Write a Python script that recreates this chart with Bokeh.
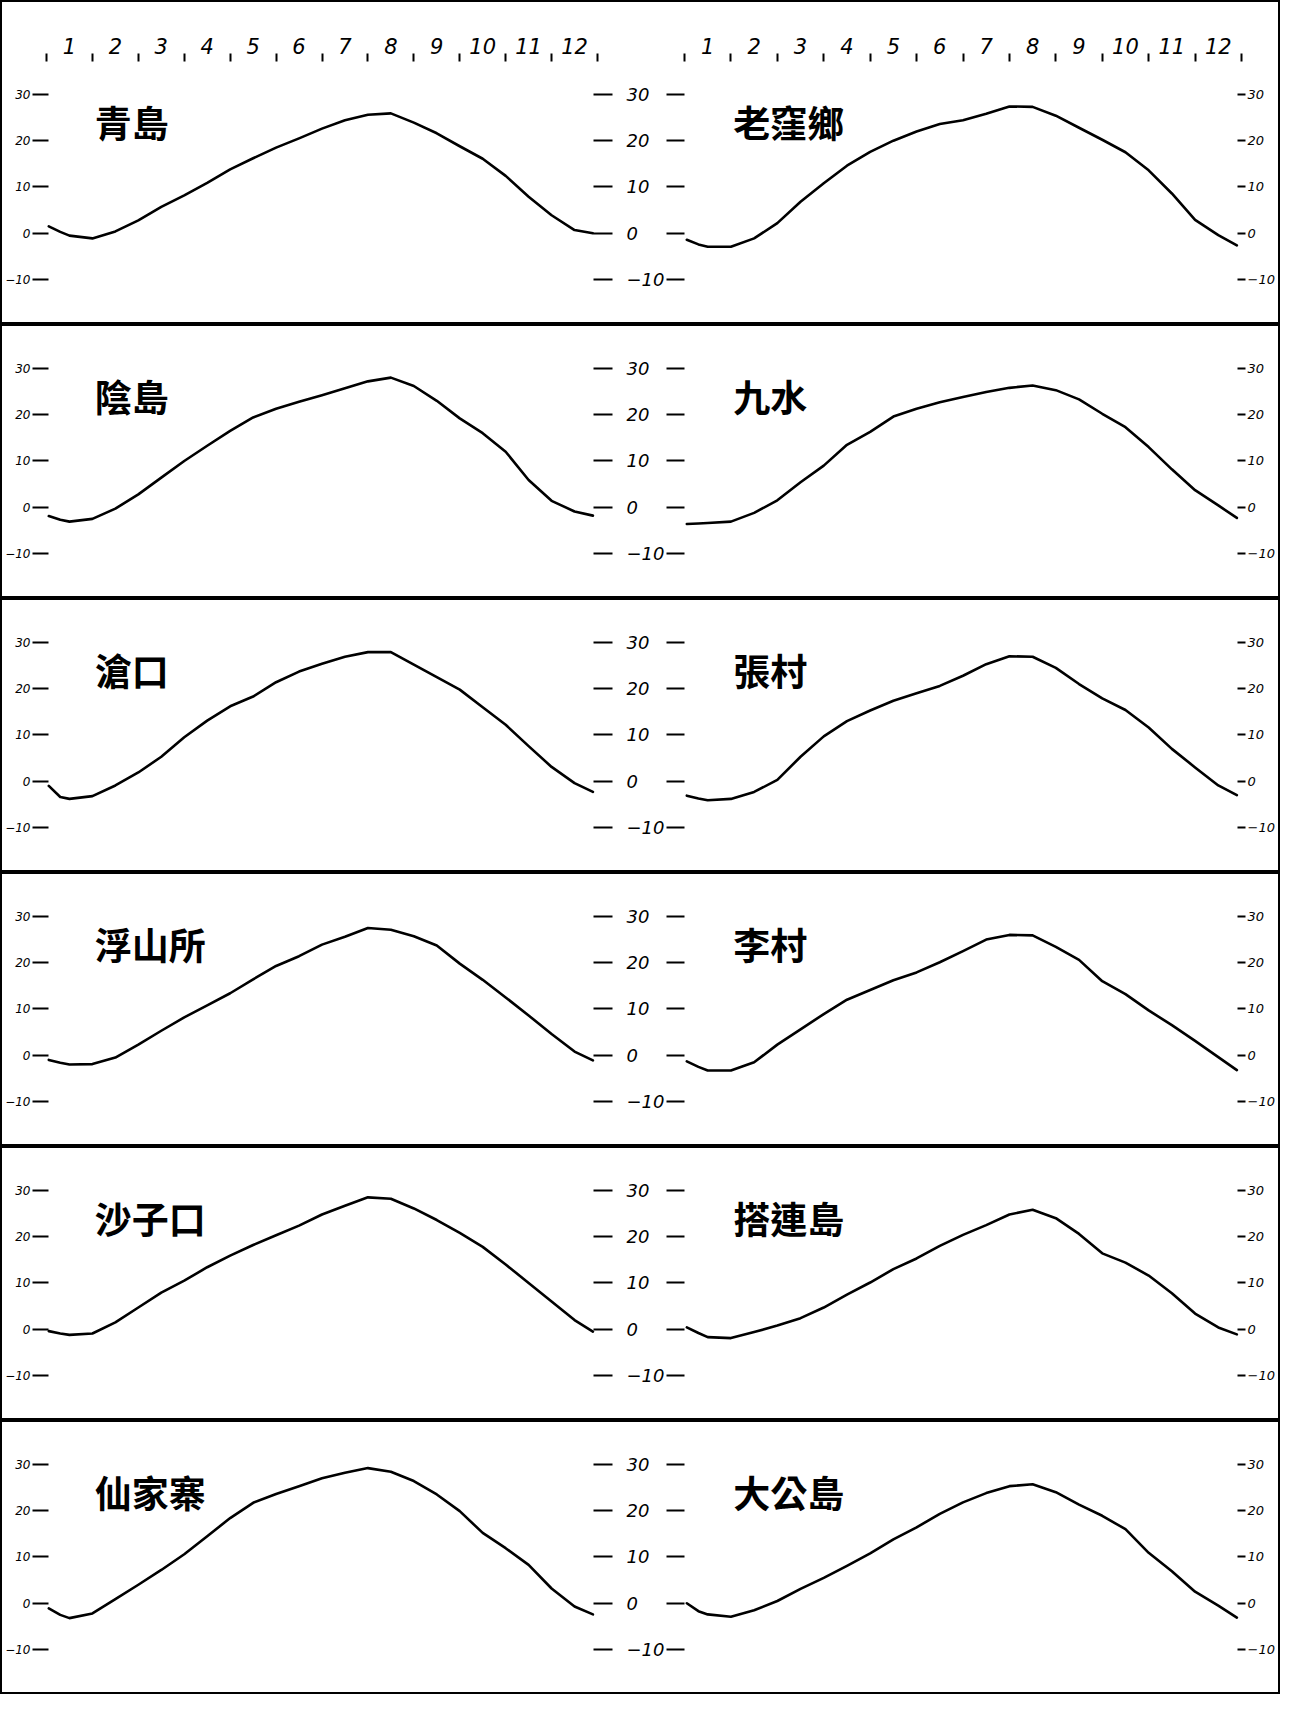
from bokeh.plotting import figure
from bokeh.models import Range1d, LinearAxis, FixedTicker
from bokeh.layouts import column
from bokeh.embed import file_html
from bokeh.resources import INLINE
from bokeh.core.properties import value

# ---------------- data ----------------
MONTH_X = [0.55, 0.8, 1.0, 1.5, 2.0, 2.5, 3.0, 3.5, 4.0, 4.5, 5.0, 5.5, 6.0,
           6.5, 7.0, 7.5, 8.0, 8.5, 9.0, 9.5, 10.0, 10.5, 11.0, 11.5, 12.0, 12.4]
MONTH_TICKS = [1, 2, 3, 4, 5, 6, 7, 8, 9, 10, 11, 12]
MONTH_EDGES = [0.5, 1.5, 2.5, 3.5, 4.5, 5.5, 6.5, 7.5, 8.5, 9.5, 10.5, 11.5, 12.5]
TEMP_TICKS = [-10, 0, 10, 20, 30]

LEFT_STATIONS = ["青島", "陰島", "滄口", "浮山所", "沙子口", "仙家寨"]
RIGHT_STATIONS = ["老窪鄉", "九水", "張村", "李村", "搭連島", "大公島"]

QINGDAO = [1.5, 0.3, -0.5, -1.1, 0.4, 2.8, 5.7, 8.2, 10.9, 13.8, 16.2, 18.5, 20.5,
           22.6, 24.4, 25.6, 25.9, 23.9, 21.6, 18.8, 16.1, 12.4, 7.9, 3.9, 0.7, 0.0]
LAOWAXIANG = [-1.4, -2.4, -2.9, -2.9, -1.1, 2.2, 6.8, 10.8, 14.6, 17.6, 20.0, 22.0, 23.6,
              24.4, 25.8, 27.4, 27.3, 25.4, 22.8, 20.2, 17.5, 13.6, 8.6, 2.9, -0.4, -2.6]
YINDAO = [-1.9, -2.7, -3.1, -2.5, -0.3, 2.8, 6.4, 10.0, 13.3, 16.5, 19.4, 21.3, 22.8,
          24.2, 25.7, 27.2, 28.0, 26.2, 23.0, 19.2, 16.0, 12.0, 5.9, 1.4, -0.9, -1.8]
JIUSHUI = [-3.6, -3.5, -3.4, -3.1, -1.2, 1.5, 5.4, 9.0, 13.5, 16.3, 19.6, 21.3, 22.7,
           23.8, 24.9, 25.8, 26.3, 25.3, 23.3, 20.2, 17.3, 13.0, 8.2, 3.7, 0.4, -2.3]
CANGKOU = [-1.0, -3.4, -3.8, -3.2, -0.9, 1.9, 5.3, 9.5, 13.1, 16.2, 18.3, 21.4, 23.7,
           25.4, 26.9, 27.9, 27.9, 25.2, 22.5, 19.8, 16.0, 12.2, 7.6, 3.1, -0.4, -2.3]
ZHANGCUN = [-3.1, -3.7, -4.1, -3.8, -2.3, 0.3, 5.3, 9.7, 13.0, 15.3, 17.4, 19.0, 20.6,
            22.8, 25.3, 27.0, 26.9, 24.5, 21.0, 17.9, 15.4, 11.6, 7.0, 3.0, -0.9, -3.0]
FUSHANSUO = [-1.0, -1.6, -2.0, -1.9, -0.5, 2.3, 5.3, 8.2, 10.8, 13.4, 16.4, 19.3, 21.4,
             23.9, 25.6, 27.5, 27.1, 25.7, 23.7, 19.8, 16.3, 12.5, 8.6, 4.6, 0.8, -1.1]
LICUN = [-1.3, -2.5, -3.3, -3.3, -1.5, 2.3, 5.6, 8.9, 12.0, 14.1, 16.2, 17.9, 20.1,
         22.5, 25.0, 26.0, 25.9, 23.4, 20.6, 16.0, 13.2, 9.7, 6.5, 3.1, -0.4, -3.2]
SHAZIKOU = [-0.4, -0.9, -1.2, -0.9, 1.5, 4.7, 7.9, 10.5, 13.4, 15.9, 18.2, 20.3, 22.4,
            24.8, 26.7, 28.5, 28.2, 26.1, 23.6, 20.8, 17.8, 14.0, 10.0, 6.0, 2.0, -0.5]
TALIANDAO = [0.4, -0.8, -1.7, -1.9, -0.6, 0.8, 2.4, 4.7, 7.5, 10.1, 13.0, 15.3, 18.0,
             20.4, 22.5, 24.8, 25.8, 24.0, 20.6, 16.4, 14.4, 11.6, 7.8, 3.4, 0.4, -1.1]
XIANJIAZHAI = [-1.1, -2.5, -3.2, -2.2, 0.9, 4.0, 7.2, 10.6, 14.5, 18.4, 21.7, 23.6, 25.3,
               27.0, 28.2, 29.2, 28.4, 26.4, 23.5, 19.9, 15.2, 11.9, 8.3, 3.2, -0.7, -2.4]
DAGONGDAO = [0.0, -1.7, -2.4, -2.9, -1.5, 0.5, 3.1, 5.5, 8.1, 10.8, 13.8, 16.4, 19.3,
             21.8, 23.8, 25.3, 25.7, 24.0, 21.3, 18.9, 16.0, 10.9, 6.9, 2.5, -0.5, -3.1]

LEFT_SERIES = [QINGDAO, YINDAO, CANGKOU, FUSHANSUO, SHAZIKOU, XIANJIAZHAI]
RIGHT_SERIES = [LAOWAXIANG, JIUSHUI, ZHANGCUN, LICUN, TALIANDAO, DAGONGDAO]

# ---------------- layout ----------------
W = 1280
H_FIRST = 324
H_ROW = 274
PX_PER_DEG = 4.63
Y_BOTTOM = -19.7
L_PX = 551 / 12.0    # px per month, left column
R_PX = 557 / 12.0    # px per month, right column
L_RANGE = (0.5 - 46 / L_PX, 0.5 + (W - 46) / L_PX)
R_RANGE = (0.5 - 684 / R_PX, 0.5 + (W - 684) / R_PX)

LOC_LEFT_AXIS = L_RANGE[0] + 32 / L_PX
LOC_MID_LABEL = L_RANGE[0] + 612 / L_PX
LOC_MID_TICK = R_RANGE[0] + 666 / R_PX
LOC_RIGHT_AXIS = R_RANGE[0] + 1245 / R_PX

NAME_X = 1.55
NAME_Y = 24.0

NUM_FONT = "DejaVu Sans"
CJK_FONT = "Noto Sans CJK TC"


def style_axis(ax, size, tick_in):
    ax.axis_line_color = None
    ax.major_tick_in = tick_in
    ax.major_tick_out = 0
    ax.minor_tick_in = 0
    ax.minor_tick_out = 0
    ax.major_tick_line_color = "black"
    ax.major_tick_line_width = 2
    ax.major_label_text_font = NUM_FONT
    ax.major_label_text_font_size = size
    ax.major_label_text_font_style = "italic"
    ax.major_label_text_color = "black"


figs = []
for i in range(6):
    h = H_FIRST if i == 0 else H_ROW
    top = Y_BOTTOM + h / PX_PER_DEG
    p = figure(width=W, height=h, x_range=Range1d(*L_RANGE), y_range=Range1d(Y_BOTTOM, top),
               x_axis_type=None, y_axis_type=None, toolbar_location=None, tools="",
               output_backend="svg", min_border=0, outline_line_color="black",
               outline_line_width=3, background_fill_color="white",
               border_fill_color="white")
    p.extra_x_ranges = {"right": Range1d(*R_RANGE)}

    # left temperature scale: "30—"
    ax = LinearAxis(ticker=FixedTicker(ticks=TEMP_TICKS, minor_ticks=[]),
                    fixed_location=LOC_LEFT_AXIS, major_label_standoff=2)
    style_axis(ax, "12px", 16)
    p.add_layout(ax, "left")

    # middle scale: "— 30 —"
    ax = LinearAxis(ticker=FixedTicker(ticks=TEMP_TICKS, minor_ticks=[]),
                    fixed_location=LOC_MID_LABEL, major_label_standoff=14)
    style_axis(ax, "18px", 19)
    p.add_layout(ax, "right")
    ax = LinearAxis(ticker=FixedTicker(ticks=TEMP_TICKS, minor_ticks=[]),
                    x_range_name="right", fixed_location=LOC_MID_TICK)
    style_axis(ax, "18px", 18)
    ax.major_label_text_color = None
    p.add_layout(ax, "left")

    # right scale: "—30"
    ax = LinearAxis(ticker=FixedTicker(ticks=TEMP_TICKS, minor_ticks=[]),
                    x_range_name="right", fixed_location=LOC_RIGHT_AXIS,
                    major_label_standoff=2)
    style_axis(ax, "13px", 8)
    p.add_layout(ax, "right")

    if i == 0:
        for rn in ("default", "right"):
            mx = LinearAxis(x_range_name=rn,
                            ticker=FixedTicker(ticks=MONTH_TICKS, minor_ticks=MONTH_EDGES),
                            fixed_location=top - 53 / PX_PER_DEG, major_label_standoff=0)
            style_axis(mx, "21px", 0)
            mx.minor_tick_in = 8
            mx.minor_tick_line_color = "black"
            mx.minor_tick_line_width = 2
            p.add_layout(mx, "above")

    p.line(MONTH_X, LEFT_SERIES[i], line_color="black", line_width=2.6,
           line_join="round", line_cap="round")
    p.line(MONTH_X, RIGHT_SERIES[i], x_range_name="right", line_color="black",
           line_width=2.6, line_join="round", line_cap="round")

    p.text(x=[NAME_X], y=[NAME_Y], text=[LEFT_STATIONS[i]], text_font=value(CJK_FONT),
           text_font_size="37px", text_font_style="bold", text_baseline="middle",
           text_align="left", text_color="black")
    p.text(x=[NAME_X], y=[NAME_Y], text=[RIGHT_STATIONS[i]], x_range_name="right",
           text_font=value(CJK_FONT), text_font_size="37px", text_font_style="bold",
           text_baseline="middle", text_align="left", text_color="black")
    figs.append(p)

layout = column(*figs)
open("out.html", "w").write(file_html(layout, INLINE))
